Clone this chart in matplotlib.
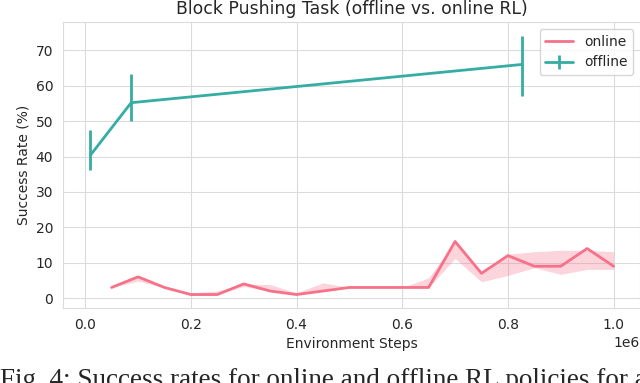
import numpy as np
import matplotlib
matplotlib.use("Agg")
import matplotlib.pyplot as plt
import seaborn as sns

# === DATA ===
online_steps = [0.05, 0.10, 0.15, 0.20, 0.25, 0.30, 0.35, 0.40, 0.45, 0.50,
                0.55, 0.60, 0.65, 0.70, 0.75, 0.80, 0.85, 0.90, 0.95, 1.00]
online_rate = [3, 6, 3, 1, 1, 4, 2, 1, 2, 3,
               3, 3, 3, 16, 7, 12, 9, 9, 14, 9]
online_low = [3, 4.8, 3, 1, 1, 3.3, 2, 1, 2, 3,
              3, 3, 3, 11.2, 4.6, 6.4, 8.6, 6.7, 8.1, 8.1]
online_high = [3, 6, 3, 1.5, 2, 4, 3.8, 1.5, 4.3, 3,
               3, 3, 5.7, 16, 7, 12.4, 13.1, 13.5, 13.5, 13.1]

offline_steps = [0.01, 0.087, 0.826]
offline_rate = [40.4, 55.2, 66]
offline_err_low = [4.2, 5.2, 9]
offline_err_high = [7.1, 8.0, 8]

caption = "Fig. 4: Success rates for online and offline RL policies for a"

# === STYLE ===
sns.set_style("whitegrid", {"grid.color": "0.86", "axes.edgecolor": "0.86"})
plt.rcParams["font.family"] = ["DejaVu Sans"]
pink, teal = sns.color_palette("husl", 2)

fig = plt.figure(figsize=(6.4, 3.83), dpi=100)
ax = fig.add_axes([63 / 640, 1 - 308 / 383, 577 / 640, 286 / 383])

x_on = np.array(online_steps) * 1e6
ax.fill_between(x_on, online_low, online_high, color=pink, alpha=0.3, lw=0)
ax.plot(x_on, online_rate, color=pink, lw=2, label="online")
ax.errorbar(np.array(offline_steps) * 1e6, offline_rate,
            yerr=[offline_err_low, offline_err_high],
            color=teal, lw=2, elinewidth=2, capsize=0, label="offline")

ax.set_xlim(-0.042e6, 1.05e6)
ax.set_ylim(-2.8, 78)
ax.set_yticks(range(0, 80, 10))
ax.tick_params(labelsize=10, colors="0.15")
ax.set_title("Block Pushing Task (offline vs. online RL)", fontsize=12.4, color="0.15")
ax.set_xlabel("Environment Steps", fontsize=10, color="0.15")
ax.set_ylabel("Success Rate (%)", fontsize=10, color="0.15")
ax.xaxis.get_offset_text().set_fontsize(10)
ax.legend(loc="upper right", fontsize=10)

fig.text(0.0, -4 / 383, caption, family="Liberation Serif",
         fontsize=19.5, va="baseline", ha="left")

fig.savefig("out.png", dpi=100)
